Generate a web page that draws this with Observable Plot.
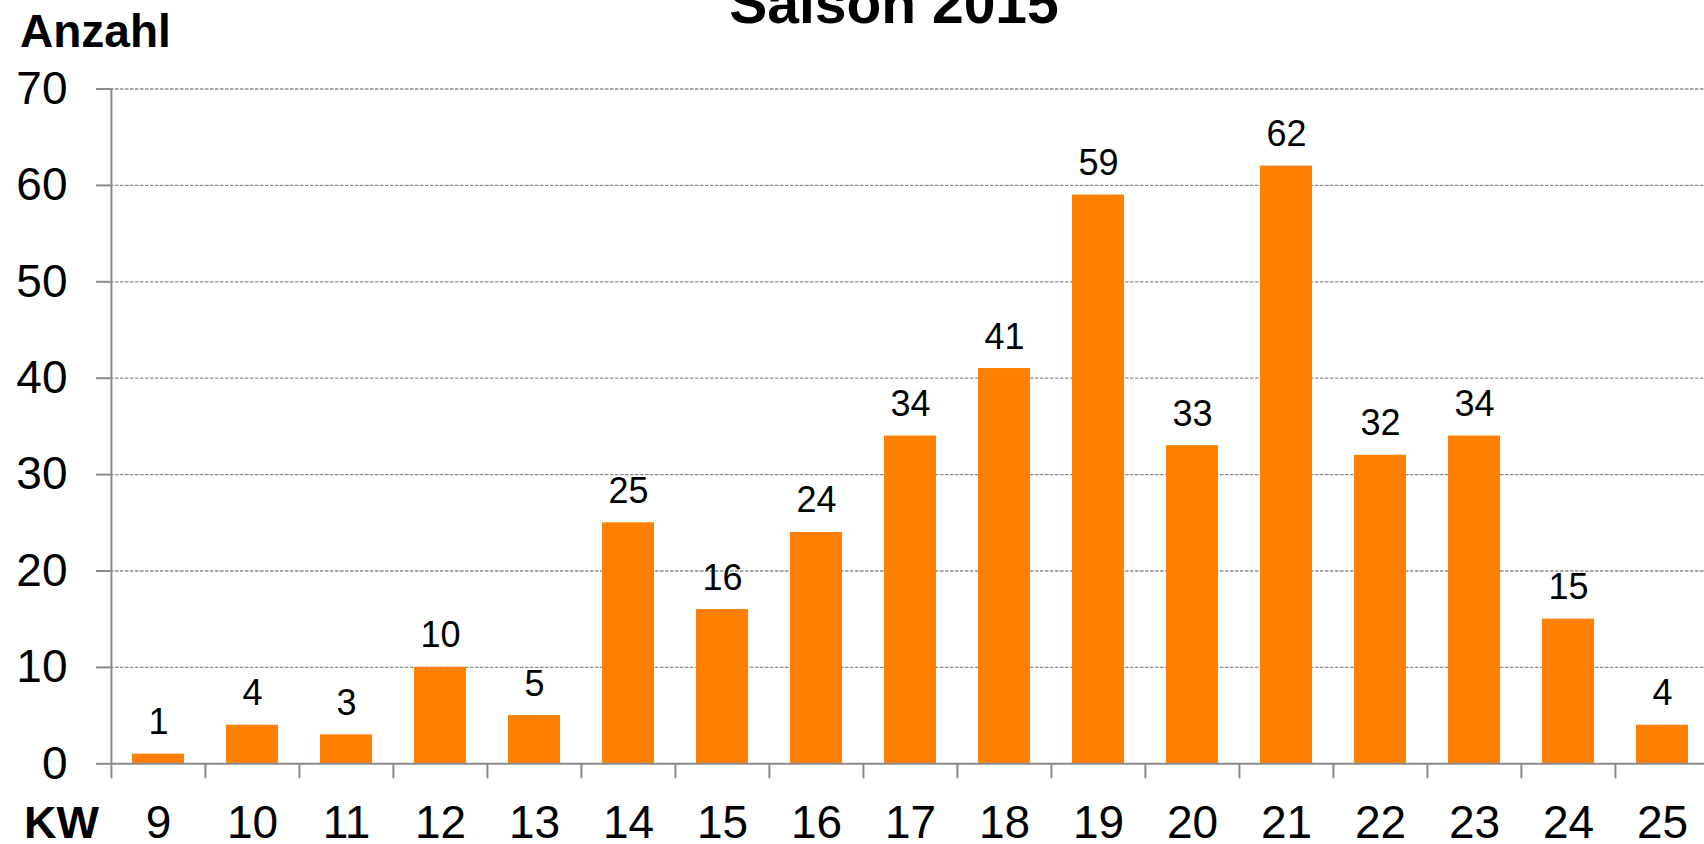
<!DOCTYPE html>
<html>
<head>
<meta charset="utf-8">
<script src="https://cdn.jsdelivr.net/npm/d3@7"></script>
<script src="https://cdn.jsdelivr.net/npm/@observablehq/plot@0.6"></script>
<style>
  html, body { margin: 0; padding: 0; background: #fff; }
  body { width: 1704px; height: 844px; overflow: hidden; position: relative;
         font-family: "Liberation Sans", Arial, sans-serif; }
  .lbl { position: absolute; font-weight: bold; color: #000; line-height: 1; white-space: nowrap; }
  #chart { position: absolute; left: 0; top: 0; }
</style>
</head>
<body>
<div id="chart"></div>
<div class="lbl" id="title" style="font-size:57px; left:894px; top:-25px; transform:translateX(-50%);">Saison 2015</div>
<div class="lbl" id="ylab" style="font-size:46px; left:20px; top:8px;">Anzahl</div>
<div class="lbl" id="xlab" style="font-size:45px; left:24px; top:800px;">KW</div>
<script>
const weeks = ["9","10","11","12","13","14","15","16","17","18","19","20","21","22","23","24","25"];
const counts = [1, 4, 3, 10, 5, 25, 16, 24, 34, 41, 59, 33, 62, 32, 34, 15, 4];
const yTicks = [0, 10, 20, 30, 40, 50, 60, 70];
const gridTicks = [10, 20, 30, 40, 50, 60, 70];

const data = weeks.map((kw, i) => ({kw, n: counts[i]}));

const W = 1704, H = 844;
const mL = 110, mR = -7, mT = 88.5, mB = 80.7;
const step = (W - mR - mL) / weeks.length;
const axisGray = "#8a8a8a";

const chart = Plot.plot({
  width: W,
  height: H,
  marginLeft: mL,
  marginRight: mR,
  marginTop: mT,
  marginBottom: mB,
  style: {fontFamily: '"Liberation Sans", Arial, sans-serif', background: "white", color: "black", overflow: "visible"},
  x: {type: "band", domain: weeks, paddingInner: 0.444, paddingOuter: 0.222, axis: null, label: null},
  y: {domain: [0, 70], axis: null, label: null},
  marks: [
    Plot.gridY(gridTicks, {stroke: "#8c8c8c", strokeOpacity: 1, strokeWidth: 1.3, strokeDasharray: "3.5,1.5"}),
    Plot.barY(data, {x: "kw", y: "n", fill: "#FF7F00"}),
    Plot.ruleY([0], {stroke: axisGray, strokeWidth: 2}),
    Plot.ruleX(weeks.slice(0, 1), {x: d => d, dx: -step / 2, stroke: axisGray, strokeWidth: 2}),
    Plot.axisY({ticks: yTicks, tickSize: 14, tickPadding: 29, fontSize: 46, stroke: axisGray, strokeWidth: 2, fill: "black", label: null, tickFormat: d => String(d)}),
    Plot.axisX({ticks: weeks, tickSize: 15, tickFormat: () => "", dx: -step / 2, stroke: axisGray, strokeWidth: 2, label: null}),
    Plot.axisX({ticks: weeks, tickSize: 0, tickPadding: 42, fontSize: 46, fill: "black", label: null}),
    Plot.text(data, {x: "kw", y: "n", text: d => String(d.n), dy: -20, lineAnchor: "bottom", fontSize: 36, fill: "black"})
  ]
});
document.getElementById("chart").appendChild(chart);
</script>
</body>
</html>
